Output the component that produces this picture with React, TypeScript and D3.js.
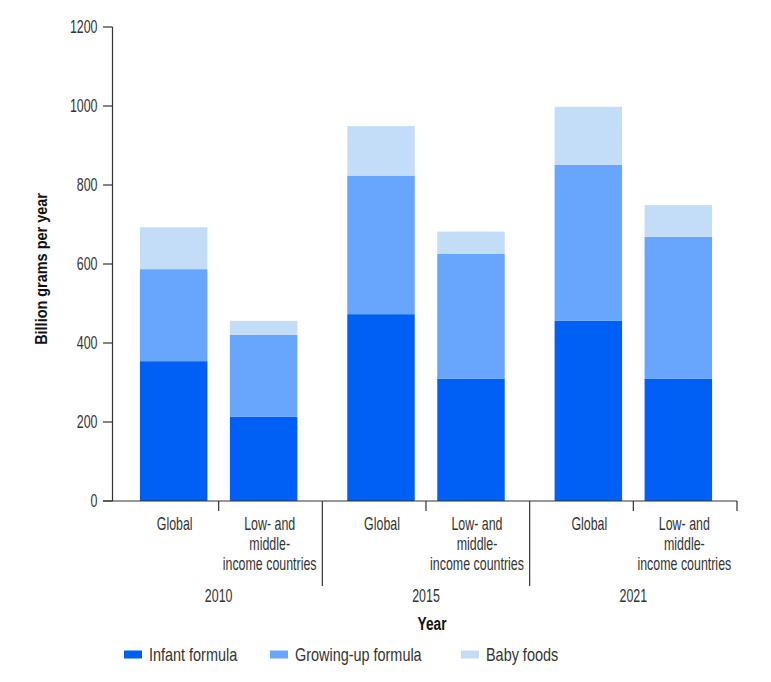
import React from "react";
import * as d3 from "d3";

const years = ["2010", "2015", "2021"];
const regions = ["Global", "Low- and middle-income countries"];
const regionLabelLines: Record<string, string[]> = {
  Global: ["Global"],
  "Low- and middle-income countries": ["Low- and", "middle-", "income countries"],
};
const seriesNames = ["Infant formula", "Growing-up formula", "Baby foods"];
const seriesColors = ["#005FF5", "#68A6FE", "#C3DCF7"];

// values in billion grams per year, order: 2010 G, 2010 L, 2015 G, 2015 L, 2021 G, 2021 L
const infantFormula = [354, 213, 473, 310, 456, 310];
const growingUpFormula = [233, 208, 351, 316, 395, 359];
const babyFoods = [106, 35, 125, 56, 147, 80];
const yTicks = [0, 200, 400, 600, 800, 1000, 1200];

const FONT = "'Liberation Sans', Arial, sans-serif";

function T(props: {
  x: number;
  y: number;
  sx?: number;
  anchor?: string;
  size?: number;
  weight?: string;
  fill?: string;
  rotate?: number;
  dy?: string;
  children: React.ReactNode;
}) {
  const { x, y, sx = 0.69, anchor = "start", size = 18, weight = "normal", fill = "#333", rotate = 0, dy } = props;
  return (
    <text
      transform={`translate(${x},${y}) rotate(${rotate}) scale(${sx},1)`}
      textAnchor={anchor}
      fontSize={size}
      fontWeight={weight}
      fill={fill}
      dy={dy}
    >
      {props.children}
    </text>
  );
}

export default function App() {
  const W = 771, H = 682;
  const axisX = 112.5;
  const x0 = 115, x1 = 737;
  const yBase = 501, yTop = 27;

  const rows = years.flatMap((yr, i) =>
    regions.map((rg, j) => {
      const k = i * 2 + j;
      return {
        year: yr,
        region: rg,
        "Infant formula": infantFormula[k],
        "Growing-up formula": growingUpFormula[k],
        "Baby foods": babyFoods[k],
      } as any;
    })
  );

  const y = d3.scaleLinear().domain([0, 1200]).range([yBase, yTop]);
  const xGroup = d3.scaleBand<string>().domain(years).range([x0, x1]).padding(0);
  const xSub = d3
    .scaleBand<string>()
    .domain(regions)
    .range([0, xGroup.bandwidth()])
    .paddingInner(0.25)
    .paddingOuter(0.277);
  const stack = d3.stack<any>().keys(seriesNames);
  const stacked = stack(rows);
  const color = d3.scaleOrdinal<string, string>().domain(seriesNames).range(seriesColors);

  const step = xGroup.bandwidth() / 2;
  const labelShift = [1, 6];

  const legendX = [124, 270, 461];

  return (
    <svg width={W} height={H} style={{ position: "absolute", left: 0, top: 0, background: "#fff" }} fontFamily={FONT}>
      {/* bars */}
      {stacked.map((s) => (
        <g key={s.key} fill={color(s.key)}>
          {s.map((d, i) => {
            const r = rows[i];
            const bx = (xGroup(r.year) as number) + (xSub(r.region) as number);
            return (
              <rect
                key={i}
                x={bx}
                width={xSub.bandwidth()}
                y={y(d[1])}
                height={y(d[0]) - y(d[1])}
              />
            );
          })}
        </g>
      ))}

      {/* axes */}
      <g stroke="#333" strokeWidth={1.2}>
        <line x1={axisX} x2={axisX} y1={y(1200)} y2={yBase} />
        {yTicks.map((t) => (
          <line key={t} x1={axisX - 9.5} x2={axisX} y1={y(t)} y2={y(t)} />
        ))}
        <line x1={axisX - 9.5} x2={x1} y1={yBase} y2={yBase} />
        {years.map((yr, i) => {
          const gx = xGroup(yr) as number;
          const mid = gx + step;
          const right = gx + xGroup.bandwidth();
          const last = i === years.length - 1;
          return (
            <g key={yr}>
              <line x1={mid} x2={mid} y1={yBase} y2={yBase + 10} />
              <line x1={right} x2={right} y1={yBase} y2={last ? yBase + 10 : yBase + 85} />
            </g>
          );
        })}
      </g>
      {yTicks.map((t) => (
        <T key={t} x={axisX - 15} y={y(t)} anchor="end" dy="0.36em">
          {t}
        </T>
      ))}
      <T x={47} y={269} rotate={-90} anchor="middle" weight="bold" size={17} sx={0.85} fill="#111">
        Billion grams per year
      </T>

      {/* x labels */}
      {rows.map((r, i) => {
        const cx =
          (xGroup(r.year) as number) + (xSub(r.region) as number) + xSub.bandwidth() / 2 + labelShift[i % 2];
        const lines = regionLabelLines[r.region];
        return (
          <T key={i} x={cx} y={530} anchor="middle">
            {lines.map((ln, li) => (
              <tspan key={li} x={0} dy={li === 0 ? 0 : 20}>
                {ln}
              </tspan>
            ))}
          </T>
        );
      })}
      {years.map((yr) => (
        <T key={yr} x={(xGroup(yr) as number) + step} y={602} anchor="middle">
          {yr}
        </T>
      ))}
      <T x={432} y={630} anchor="middle" weight="bold" size={18.5} sx={0.74} fill="#111">
        Year
      </T>

      {/* legend */}
      {seriesNames.map((s, i) => (
        <g key={s}>
          <rect x={legendX[i]} y={650.5} width={18} height={8} fill={color(s)} />
          <T x={legendX[i] + 25} y={654.5} dy="0.36em" size={18.5} sx={0.78}>
            {s}
          </T>
        </g>
      ))}
    </svg>
  );
}
